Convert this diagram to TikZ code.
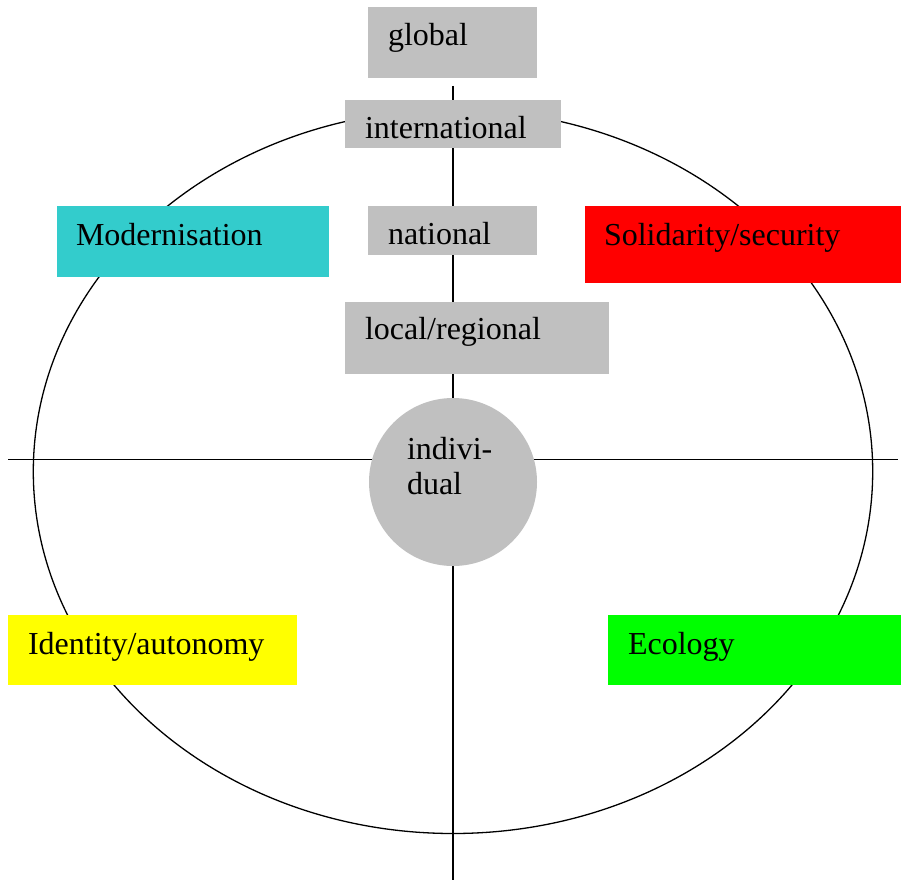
\documentclass[tikz,border=0pt]{standalone}
\usepackage{fontspec}
\setmainfont{Liberation Serif}
\definecolor{boxgray}{HTML}{C0C0C0}
\definecolor{modcyan}{HTML}{33CCCC}
\definecolor{solred}{HTML}{FF0000}
\definecolor{idyellow}{HTML}{FFFF00}
\definecolor{ecogreen}{HTML}{00FF00}
\begin{document}
\begin{tikzpicture}[x=1pt,y=-1pt,
  box/.style={draw=none,fill=#1,minimum width=\bw,minimum height=\bh,inner sep=0pt,outer sep=0pt},
  lbl/.style={anchor=base west,inner sep=0pt,outer sep=0pt,font=\fontsize{32}{34.7}\selectfont,align=left},
  axis/.style={line width=1.3pt,black},
]
\newlength{\bw}\newlength{\bh}
\useasboundingbox (0,0) rectangle (901,880);
% axes and ellipse
\coordinate (vtop) at (453,86);
\coordinate (vbot) at (453,880);
\coordinate (hleft) at (8,459.3);
\coordinate (hright) at (898,459.3);
\coordinate (ec) at (453,471.5);
\draw[axis] (ec) ellipse [x radius=419.7pt, y radius=362pt];
\draw[axis] (vtop) -- (vbot);
\draw[axis] (hleft) -- (hright);
% level boxes
\setlength{\bw}{169pt}\setlength{\bh}{71pt}
\node[box=boxgray] (global) at (452.5,42.5) {};
\setlength{\bw}{216pt}\setlength{\bh}{48pt}
\node[box=boxgray] (intl) at (453,124) {};
\setlength{\bw}{169pt}\setlength{\bh}{49pt}
\node[box=boxgray] (natl) at (452.5,230) {};
\setlength{\bw}{264pt}\setlength{\bh}{72pt}
\node[box=boxgray] (local) at (477,338) {};
\node[circle,fill=boxgray,minimum size=168pt,inner sep=0pt] (indiv) at (453,482) {};
% quadrant boxes
\setlength{\bw}{272pt}\setlength{\bh}{71pt}
\node[box=modcyan] (mod) at (193,241) {};
\setlength{\bw}{316pt}\setlength{\bh}{77pt}
\node[box=solred] (sol) at (743,244.5) {};
\setlength{\bw}{289pt}\setlength{\bh}{70pt}
\node[box=idyellow] (ident) at (152.5,650) {};
\setlength{\bw}{293pt}\setlength{\bh}{70pt}
\node[box=ecogreen] (eco) at (754.5,650) {};
% labels
\node[lbl] (tglobal) at (388,45.5) {global};
\node[lbl] (tintl) at (365,138) {international};
\node[lbl] (tnatl) at (388,244.5) {national};
\node[lbl] (tlocal) at (365,339.5) {local/regional};
\node[lbl] (tind1) at (407,459.8) {indivi-};
\node[lbl] (tind2) at (407,494.5) {dual};
\node[lbl] (tmod) at (76,245.5) {Modernisation};
\node[lbl] (tsol) at (604,245.5) {Solidarity/security};
\node[lbl] (tident) at (28,654.5) {Identity/autonomy};
\node[lbl] (teco) at (628,654.5) {Ecology};
\end{tikzpicture}
\end{document}
